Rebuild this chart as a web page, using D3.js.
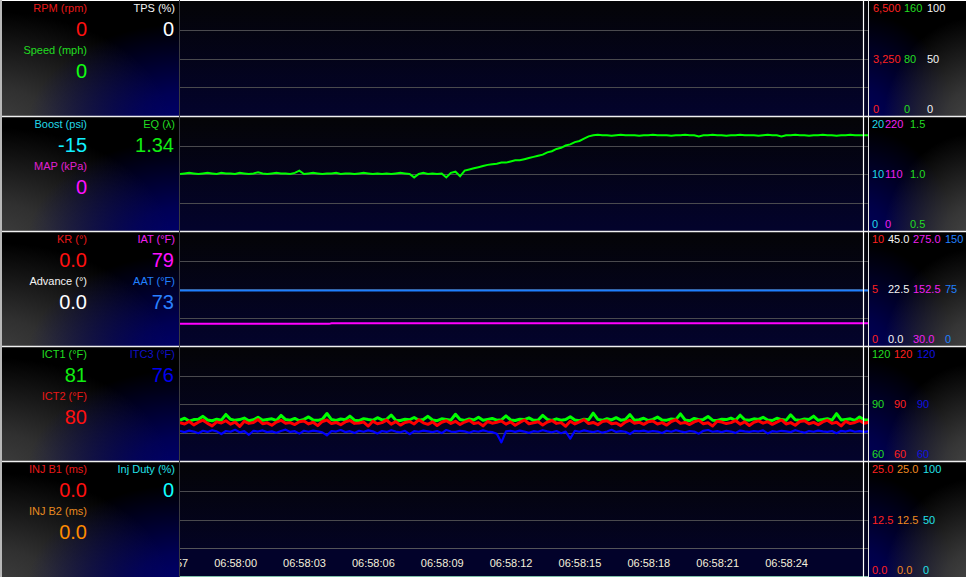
<!DOCTYPE html>
<html><head><meta charset="utf-8">
<script src="https://cdn.jsdelivr.net/npm/d3@7"></script>
<style>
html,body{margin:0;padding:0;background:#000;overflow:hidden}
svg{display:block}
text{font-family:"Liberation Sans",Arial,sans-serif}
</style>
</head><body>
<svg id="c" width="966" height="577"></svg>
<script>
// ---------------- DATA ----------------
const sampleStart = "06:57:57.600";   // time of first sample
const sampleStepMs = 200;              // logger sample interval
const viewEnd = "06:58:27.570";
const lastLabel = "06:58:24";

const eqValues = [
1.0,1.005,1.01,1.005,1.0,1.005,1.01,1.005,1.0,1.01,1.005,1.005,1.0,1.01,1.005,1.0,1.005,1.015,1.005,1.0,
1.005,1.01,1.005,1.005,1.0,1.01,1.03,1.0,1.005,1.01,1.005,1.0,1.005,1.005,1.01,1.0,1.005,1.005,1.0,1.005,
1.01,1.005,1.0,1.005,1.0,1.005,1.0,1.005,1.01,1.005,1.0,0.97,1.0,1.01,1.0,1.005,1.0,1.005,0.97,1.01,
1.02,0.98,1.03,1.04,1.05,1.06,1.07,1.08,1.085,1.09,1.10,1.10,1.11,1.12,1.12,1.13,1.14,1.15,1.16,1.17,
1.19,1.20,1.22,1.23,1.25,1.26,1.28,1.29,1.31,1.33,1.34,1.345,1.34,1.34,1.335,1.34,1.345,1.34,1.34,1.34,
1.335,1.34,1.34,1.345,1.34,1.34,1.34,1.335,1.34,1.34,1.345,1.34,1.34,1.33,1.34,1.34,1.345,1.34,1.34,1.335,
1.34,1.34,1.345,1.34,1.34,1.34,1.335,1.34,1.345,1.34,1.34,1.33,1.34,1.34,1.345,1.34,1.34,1.335,1.34,1.34,
1.345,1.34,1.34,1.335,1.34,1.34,1.345,1.34,1.34,1.34,1.34
];
const ict1Values = [
81.5,82.5,81,81.8,82,83.5,81.6,81.2,82,81.5,84.5,82,81.4,81.8,82.6,81.2,81.7,83,81.5,81.9,
82.2,81.3,84,81.8,81.5,82.4,81.2,81.9,83.2,81.6,81.4,82,85,81.8,81.3,82.1,81.7,83.6,81.5,81.2,
82.3,81.8,81.4,82.8,81.6,81.9,84.2,81.5,81.3,82,81.7,82.9,81.4,81.8,83.5,81.6,81.2,82.2,81.9,81.5,
84.6,81.8,81.3,82.1,81.6,83,81.4,81.9,82.4,81.5,81.7,83.8,81.6,81.3,82,81.8,82.7,81.4,81.6,84,
81.9,81.3,82.2,81.5,81.8,83.3,81.6,81.2,82,81.7,85.2,81.9,81.4,82.3,81.6,82.8,81.5,81.8,84.4,81.4,
81.7,82.5,81.3,81.9,83.1,81.6,81.5,82.1,81.8,84.8,81.6,81.2,82.4,81.7,81.9,83.4,81.5,81.3,82,81.8,
82.6,81.4,84.1,81.7,81.5,82.2,81.9,83,81.6,81.3,82.5,81.8,81.4,84.3,81.7,81.5,82.1,81.9,83.6,81.4,
81.8,82.3,81.5,84.9,81.6,81.9,82.2,81.4,83.2,81.7,81.6
];
const ict2Values = [
80.2,79.5,80.8,79,80.4,81.5,79.8,78.5,80.6,80,81.2,79.4,80.5,78.2,80.9,79.8,80.3,81.8,79.6,80.1,
78.8,80.5,81.4,79.9,80.2,79.2,80.7,81,79.5,80.4,78.6,80.8,81.6,79.7,80.3,79.1,80.6,81.3,79.8,80,
80.5,78.4,80.9,79.6,80.2,81.5,79.4,80.7,78.9,80.3,80.8,79.5,81.7,80.1,79.3,80.6,78.7,80.4,81.2,79.8,
80.9,79.2,80.5,81.4,79.7,80.2,78.5,80.8,79.9,80.4,81.1,79.4,80.6,78.8,80.3,81.6,79.6,80.1,80.7,79,
80.5,81.3,79.8,80.2,78.3,80.9,79.5,80.6,81.8,79.7,80.3,79.1,80.8,81.2,79.6,80,78.6,80.5,81.5,79.9,
80.4,79.3,80.7,81,79.5,80.2,78.9,80.8,81.7,79.8,80.3,79.2,80.6,81.4,79.6,80.1,78.4,80.9,80.5,79.7,
80.2,81.3,79.4,80.6,78.7,80.4,81.1,79.9,80.7,79.3,80.5,81.6,79.5,80.2,78.8,80.8,81.2,79.6,80.3,79.1,
80.6,81.5,79.8,80.4,78.5,80.9,79.7,80.3,81.3,79.9,80.4
];
const itc3Values = [
75.8,75.2,76,75.5,74.6,75.9,75.3,76.2,75.6,74.2,75.8,75.4,76.4,75.1,75.7,73.8,75.9,75.5,76.1,75.2,
75.6,74.9,75.8,76.5,75.3,75.7,74.4,75.9,75.4,76,75.6,75.1,73.5,75.8,75.5,76.3,75.2,75.7,74.8,75.9,
75.4,76.1,75.6,74.5,75.8,75.3,76.2,75.5,75.1,75.9,74.1,75.7,75.4,76,75.6,75.2,75.8,74.7,76.3,75.5,
75.3,75.9,75.6,74.9,75.8,75.4,76.1,75.5,75.2,74.3,69.8,75.6,75.9,75.3,76,75.5,74.8,75.7,75.4,76.2,
75.6,75.1,75.8,74.6,75.5,71.8,75.9,75.4,76.1,75.6,75.2,75.8,74.9,75.5,76.4,75.3,75.7,75.4,74.2,75.9,
75.6,76,75.3,75.8,75.5,74.7,75.9,75.4,76.2,75.6,75.1,75.8,75.5,74.4,75.9,76.3,75.4,75.7,75.2,75.9,
75.5,74.8,76,75.6,75.3,75.8,75.5,76.1,74.5,75.7,75.4,75.9,75.6,75.2,76.2,75.5,74.9,75.8,75.4,76,
75.6,75.3,75.8,74.6,75.9,75.5,76.1,75.4,75.7,75.3,75.6
];
// [seconds after sampleStart, value]
const iatPoints = [[0,77.6],[6.5,77.6],[6.6,79],[30,79]];
const aatPoints = [[0,73],[30,73]];

const readoutNames  = ["RPM (rpm)","TPS (%)","Speed (mph)","Boost (psi)","EQ (λ)","MAP (kPa)","KR (°)","IAT (°F)","Advance (°)","AAT (°F)","ICT1 (°F)","ITC3 (°F)","ICT2 (°F)","INJ B1 (ms)","Inj Duty (%)","INJ B2 (ms)"];
const readoutValues = ["0","0","0","-15","1.34","0","0.0","79","0.0","73","81","76","80","0.0","0","0.0"];

// right-side scale labels per panel: [bottom, middle, top]
const rpmTicks = ["0","3,250","6,500"], speedTicks = ["0","80","160"], tpsTicks = ["0","50","100"];
const boostTicks = ["0","10","20"], mapTicks = ["0","110","220"], eqTicks = ["0.5","1.0","1.5"];
const krTicks = ["0","5","10"], advTicks = ["0.0","22.5","45.0"], iatTicks = ["30.0","152.5","275.0"], aatTicks = ["0","75","150"];
const ict1Ticks = ["60","90","120"], ict2Ticks = ["60","90","120"], itc3Ticks = ["60","90","120"];
const injb1Ticks = ["0.0","12.5","25.0"], injb2Ticks = ["0.0","12.5","25.0"], dutyTicks = ["0","50","100"];

// ---------------- LAYOUT ----------------
const W = 966, H = 577;
const plotL = 180, plotR = 868, cursorX = 863;
const panelTops = [0,116,231,346,461], panelBots = [116,231,346,461,577];

const svg = d3.select("#c");
const defs = svg.append("defs");

function radial(id, cx, cy, r, color, op) {
  const g = defs.append("radialGradient").attr("id", id).attr("cx", cx).attr("cy", cy).attr("r", r);
  g.append("stop").attr("offset", 0).attr("stop-color", color).attr("stop-opacity", op);
  g.append("stop").attr("offset", 0.35).attr("stop-color", color).attr("stop-opacity", op * 0.75);
  g.append("stop").attr("offset", 1).attr("stop-color", color).attr("stop-opacity", 0);
}
radial("lGray", -0.05, 1.1, 1.0, "#404040", 1);
radial("lBlue", 1.05, 1.1, 0.9, "#000070", 1);
radial("rBlue", -0.1, 1.1, 1.0, "#000060", 1);
radial("rGray", 1.1, 1.1, 0.95, "#474747", 1);
const cg = defs.append("linearGradient").attr("id", "cBg").attr("x1", 0).attr("y1", 0).attr("x2", 0).attr("y2", 1);
cg.append("stop").attr("offset", 0).attr("stop-color", "#040406");
cg.append("stop").attr("offset", 1).attr("stop-color", "#03032c");

svg.append("rect").attr("width", W).attr("height", H).attr("fill", "#000");

const parseT = d3.timeParse("%H:%M:%S.%L");
const t0 = parseT(sampleStart), tEnd = parseT(viewEnd);
const x = d3.scaleTime().domain([t0, tEnd]).range([plotL, plotR]);
const tAt = s => new Date(+t0 + s * 1000);

panelTops.forEach((top, i) => {
  const bot = panelBots[i], h = bot - top;
  svg.append("rect").attr("x", 0).attr("y", top).attr("width", plotL).attr("height", h).attr("fill", "#000");
  svg.append("rect").attr("x", 0).attr("y", top).attr("width", plotL).attr("height", h).attr("fill", "url(#lGray)");
  svg.append("rect").attr("x", 0).attr("y", top).attr("width", plotL).attr("height", h).attr("fill", "url(#lBlue)");
  svg.append("rect").attr("x", plotR).attr("y", top).attr("width", W - plotR).attr("height", h).attr("fill", "url(#rBlue)");
  svg.append("rect").attr("x", plotR).attr("y", top).attr("width", W - plotR).attr("height", h).attr("fill", "url(#rGray)");
  svg.append("rect").attr("x", plotL).attr("y", top).attr("width", plotR - plotL).attr("height", h).attr("fill", "url(#cBg)");
  defs.append("clipPath").attr("id", "clip" + i).append("rect")
    .attr("x", plotL).attr("y", top + 1).attr("width", plotR - plotL).attr("height", h - 1);
});

const yScale = (i, d0, d1) => d3.scaleLinear().domain([d0, d1]).range([panelBots[i], panelTops[i] + 1]);
const yEq = yScale(1, 0.5, 1.5);
const yIat = yScale(2, 30, 275), yAat = yScale(2, 0, 150);
const yIct = yScale(3, 60, 120);

// gridlines (quarters of each panel)
panelTops.forEach((top, i) => {
  const g = d3.scaleLinear().domain([0, 4]).range([panelBots[i], top + 1]);
  svg.append("g").selectAll("line").data([1, 2, 3]).join("line")
    .attr("x1", plotL).attr("x2", plotR)
    .attr("y1", d => Math.round(g(d)) + 0.5).attr("y2", d => Math.round(g(d)) + 0.5)
    .attr("stroke", "#4a4a4e").attr("stroke-width", 1);
});

// time axis strip
const stripTop = Math.round(d3.scaleLinear().domain([0, 4]).range([577, 462])(1));
svg.append("rect").attr("x", plotL).attr("y", stripTop).attr("width", plotR - plotL).attr("height", H - stripTop).attr("fill", "#02022a");
svg.append("line").attr("x1", plotL).attr("x2", plotR).attr("y1", stripTop + 0.5).attr("y2", stripTop + 0.5).attr("stroke", "#555558");
svg.append("line").attr("x1", plotL).attr("x2", plotR).attr("y1", H - 0.5).attr("y2", H - 0.5).attr("stroke", "#7fbfa8");

// series
const seriesLine = (yS) => d3.line().x((d, k) => x(tAt(k * sampleStepMs / 1000))).y(d => yS(d));
const ptsLine = (yS) => d3.line().x(d => x(tAt(d[0]))).y(d => yS(d[1]));

svg.append("path").attr("clip-path", "url(#clip1)").attr("d", seriesLine(yEq)(eqValues))
  .attr("fill", "none").attr("stroke", "#00ff00").attr("stroke-width", 2);
svg.append("path").attr("clip-path", "url(#clip2)").attr("d", ptsLine(yIat)(iatPoints))
  .attr("fill", "none").attr("stroke", "#ff00ff").attr("stroke-width", 2);
svg.append("path").attr("clip-path", "url(#clip2)").attr("d", ptsLine(yAat)(aatPoints))
  .attr("fill", "none").attr("stroke", "#1e7fff").attr("stroke-width", 2);
svg.append("path").attr("clip-path", "url(#clip3)").attr("d", seriesLine(yIct)(ict1Values))
  .attr("fill", "none").attr("stroke", "#00ff00").attr("stroke-width", 3).attr("stroke-linejoin", "round");
svg.append("path").attr("clip-path", "url(#clip3)").attr("d", seriesLine(yIct)(ict2Values))
  .attr("fill", "none").attr("stroke", "#ff0000").attr("stroke-width", 3).attr("stroke-linejoin", "round");
svg.append("path").attr("clip-path", "url(#clip3)").attr("d", seriesLine(yIct)(itc3Values))
  .attr("fill", "none").attr("stroke", "#0000ff").attr("stroke-width", 2.2).attr("stroke-linejoin", "round");

// time axis labels
defs.append("clipPath").attr("id", "clipAxis").append("rect").attr("x", plotL).attr("y", 540).attr("width", plotR - plotL).attr("height", 37);
const tLast = d3.timeParse("%H:%M:%S")(lastLabel);
const ticks = d3.timeSecond.every(3).range(new Date(+t0 - 3000), new Date(+tLast + 1));
const ax = svg.append("g").attr("clip-path", "url(#clipAxis)").append("g")
  .attr("transform", `translate(0,${559})`)
  .call(d3.axisBottom(x).tickValues(ticks).tickFormat(d3.timeFormat("%H:%M:%S")).tickSize(0).tickPadding(0));
ax.select(".domain").remove();
ax.selectAll("text").attr("fill", "#f4f0dc").attr("font-size", 11).attr("font-family", '"Liberation Sans",Arial,sans-serif');

// borders
svg.append("line").attr("x1", 0).attr("x2", W).attr("y1", 0.5).attr("y2", 0.5).attr("stroke", "#fff");
panelTops.slice(1).forEach(t => {
  svg.append("line").attr("x1", 0).attr("x2", W).attr("y1", t + 0.5).attr("y2", t + 0.5).attr("stroke", "#f0f0f0").attr("stroke-width", 1.5);
});
svg.append("line").attr("x1", 1).attr("x2", 1).attr("y1", 0).attr("y2", H).attr("stroke", "#b8b8b8").attr("stroke-width", 2);
svg.append("line").attr("x1", plotL - 0.5).attr("x2", plotL - 0.5).attr("y1", 0).attr("y2", H).attr("stroke", "#3a3a40");
svg.append("line").attr("x1", plotR + 0.5).attr("x2", plotR + 0.5).attr("y1", 0).attr("y2", H).attr("stroke", "#e8e8e8");
svg.append("line").attr("x1", cursorX + 0.5).attr("x2", cursorX + 0.5).attr("y1", 0).attr("y2", H).attr("stroke", "#ffffff").attr("stroke-width", 1.2);

// readouts
const readoutPanel = [0,0,0,1,1,1,2,2,2,2,3,3,3,4,4,4];
const readoutCol   = [0,1,0,0,1,0,0,1,0,1,0,1,0,0,1,0];
const readoutRow   = [0,0,1,0,0,1,0,0,1,1,0,0,1,0,0,1];
const labelColors  = ["#e81818","#f4f4f4","#22dd22","#22d8e8","#22dd22","#e020d0","#e81818","#f020f0","#f4f4f4","#2080ff","#22dd22","#1010c8","#e81818","#e81818","#22e0e8","#e88a20"];
const valueColors  = ["#ff1010","#ffffff","#11ff11","#11f0ff","#11ee11","#ff10ff","#ff1010","#ff10ff","#ffffff","#2a80ff","#11ee11","#0000f0","#ff1010","#ff1010","#11ffff","#ff8c00"];
const colRight = [87, 175];
const ro = svg.append("g");
readoutNames.forEach((name, k) => {
  const top = panelTops[readoutPanel[k]], row = readoutRow[k], col = readoutCol[k];
  ro.append("text").attr("x", colRight[col]).attr("y", top + 12 + row * 42)
    .attr("text-anchor", "end").attr("font-size", 11).attr("fill", labelColors[k]).text(name);
  ro.append("text").attr("x", colRight[col] - (col === 1 ? 1 : 0)).attr("y", top + 35.5 + row * 42)
    .attr("text-anchor", "end").attr("font-size", 20).attr("fill", valueColors[k]).text(readoutValues[k]);
});

// right scale labels
const rightCols = [
  [[873, rpmTicks, "#ff2020"], [904, speedTicks, "#22dd22"], [927, tpsTicks, "#f4f4f4"]],
  [[872, boostTicks, "#22d8e8"], [885, mapTicks, "#f020f0"], [910, eqTicks, "#22dd22"]],
  [[872, krTicks, "#ff2020"], [888, advTicks, "#f4f4f4"], [913, iatTicks, "#f020f0"], [945, aatTicks, "#2080ff"]],
  [[872, ict1Ticks, "#22dd22"], [894, ict2Ticks, "#ff2020"], [917, itc3Ticks, "#1010e0"]],
  [[872, injb1Ticks, "#ff2020"], [897, injb2Ticks, "#f08a20"], [923, dutyTicks, "#22e0e8"]]
];
rightCols.forEach((cols, i) => {
  const pos = d3.scaleLinear().domain([0, 2]).range([panelBots[i] - 7, panelTops[i] + 8]);
  cols.forEach(([cx, labels, color]) => {
    const g = svg.append("g").attr("transform", `translate(${cx},0)`)
      .call(d3.axisRight(pos).tickValues([0, 1, 2]).tickFormat(v => labels[v]).tickSize(0).tickPadding(0));
    g.select(".domain").remove();
    g.selectAll("text").attr("fill", color).attr("font-size", 11)
      .attr("font-family", '"Liberation Sans",Arial,sans-serif').attr("text-anchor", "start").attr("dy", "0.36em");
  });
});
</script>
</body></html>
